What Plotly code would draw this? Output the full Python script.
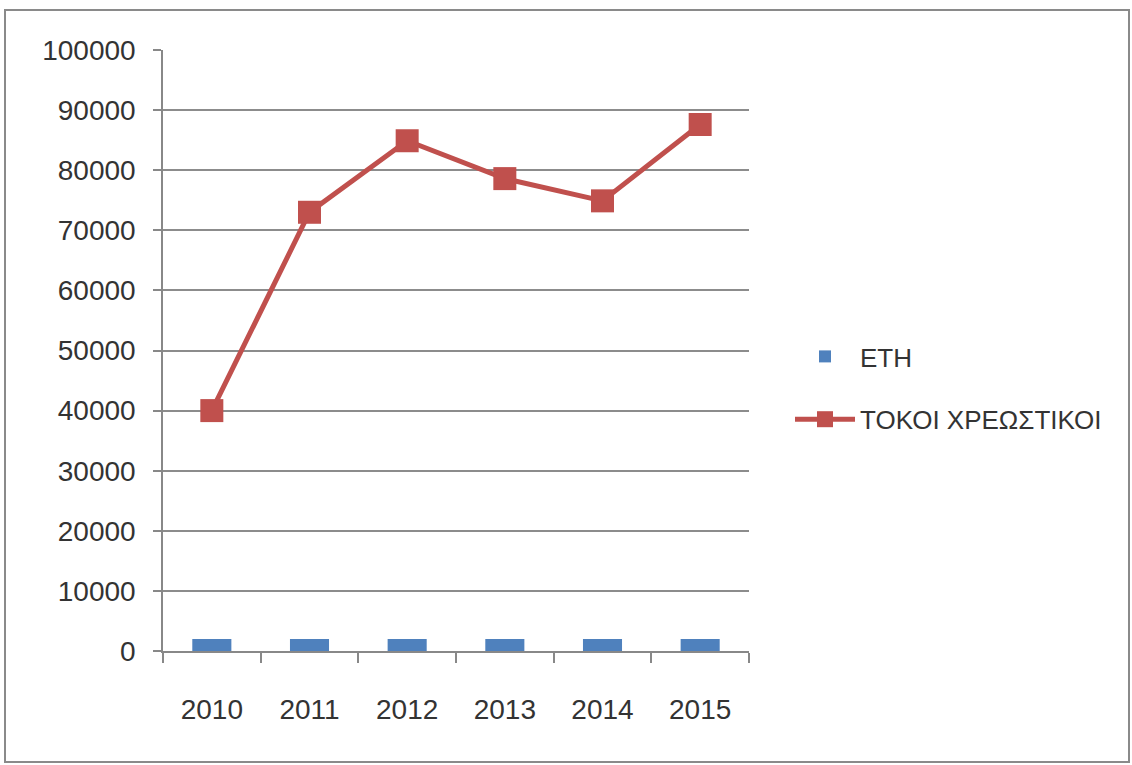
import plotly.graph_objects as go

years = ["2010", "2011", "2012", "2013", "2014", "2015"]
eth = [2010, 2011, 2012, 2013, 2014, 2015]
tokoi = [40000, 73000, 84900, 78600, 74900, 87600]
y_ticks = [0, 10000, 20000, 30000, 40000, 50000, 60000, 70000, 80000, 90000, 100000]

W, H = 1132, 765
ML, MR, MT, MB = 163, 383, 50, 114
PW, PH = W - ML - MR, H - MT - MB

def px_x(px):
    return (px - ML) / PW

def px_y(py):
    return (H - MB - py) / PH

FONT = "Liberation Sans"

fig = go.Figure()
fig.add_trace(go.Bar(
    x=years, y=eth, name="ΕΤΗ",
    marker=dict(color="#4F81BD", line=dict(width=0)),
    legendgroup="a",
))
fig.add_trace(go.Scatter(
    x=years, y=tokoi, name="ΤΟΚΟΙ ΧΡΕΩΣΤΙΚΟΙ",
    mode="lines+markers",
    line=dict(color="#C0504D", width=5),
    marker=dict(symbol="square", size=23, color="#C0504D"),
    legendgroup="b",
))

fig.update_layout(
    width=W, height=H,
    margin=dict(l=ML, r=MR, t=MT, b=MB),
    paper_bgcolor="white", plot_bgcolor="white",
    bargap=0.6,
    font=dict(family=FONT, size=28, color="#333333"),
    showlegend=True,
    legend=dict(
        x=px_x(790), y=px_y(388), xanchor="left", yanchor="middle",
        font=dict(family=FONT, size=26, color="#333333"),
        itemwidth=60, tracegroupgap=26,
        bgcolor="rgba(0,0,0,0)",
    ),
    xaxis=dict(
        type="category",
        showline=True, linecolor="#888888", linewidth=1.5,
        ticks="outside", ticklen=10, tickcolor="#888888", tickwidth=1.5,
        tickson="boundaries",
        showgrid=False,
        tickfont=dict(family=FONT, size=28, color="#333333"),
        ticklabelstandoff=33,
    ),
    yaxis=dict(
        range=[0, 100000],
        tickvals=y_ticks,
        ticktext=[str(v) for v in y_ticks],
        showline=True, linecolor="#888888", linewidth=1.5,
        ticks="outside", ticklen=8, tickcolor="#888888", tickwidth=1.5,
        showgrid=True, gridcolor="#8c8c8c", gridwidth=1.5,
        zeroline=False,
        tickfont=dict(family=FONT, size=28, color="#333333"),
        ticklabelstandoff=12,
    ),
    shapes=[dict(
        type="rect", xref="paper", yref="paper",
        x0=px_x(5), x1=px_x(1129), y0=px_y(762), y1=px_y(10),
        line=dict(color="#8a8a8a", width=2), fillcolor="rgba(0,0,0,0)",
        layer="below",
    )],
)

fig.write_html("out.html", config={"displayModeBar": False},
               post_script="document.body.style.margin='0';")
